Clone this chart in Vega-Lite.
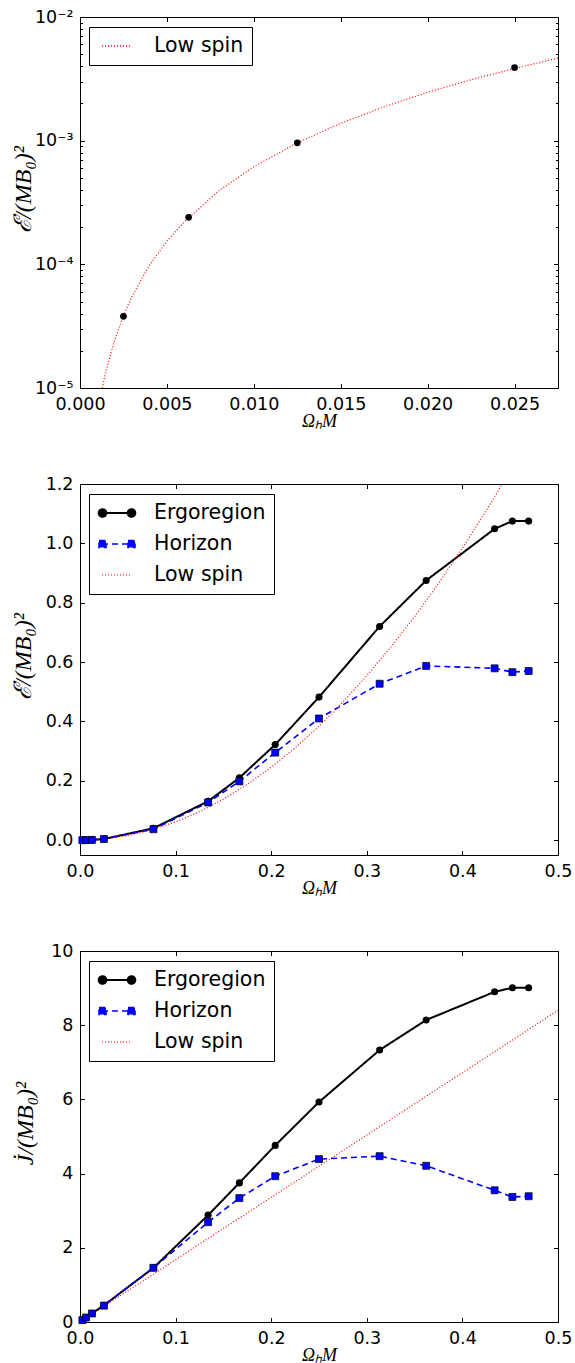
{
  "$schema": "https://vega.github.io/schema/vega-lite/v6.json",
  "padding": {"left": 10, "top": 7, "right": 5, "bottom": 0},
  "spacing": 96,
  "bounds": "flush",
  "datasets": {
    "p1_low": [
      {"x": 0.00128, "y": 1.0e-5}, {"x": 0.0015, "y": 1.38e-5}, {"x": 0.002, "y": 2.46e-5}, {"x": 0.0025, "y": 3.84e-5},
      {"x": 0.003, "y": 5.54e-5}, {"x": 0.004, "y": 9.84e-5}, {"x": 0.005, "y": 1.54e-4}, {"x": 0.006, "y": 2.21e-4},
      {"x": 0.008, "y": 3.94e-4}, {"x": 0.010, "y": 6.15e-4}, {"x": 0.0125, "y": 9.61e-4}, {"x": 0.015, "y": 1.38e-3},
      {"x": 0.0175, "y": 1.88e-3}, {"x": 0.020, "y": 2.46e-3}, {"x": 0.0225, "y": 3.11e-3}, {"x": 0.025, "y": 3.84e-3},
      {"x": 0.0275, "y": 4.65e-3}
    ],
    "p1_pts": [
      {"x": 0.0025, "y": 3.8e-5}, {"x": 0.00625, "y": 2.4e-4}, {"x": 0.0125, "y": 9.6e-4}, {"x": 0.025, "y": 3.9e-3}
    ],
    "p2": [
      {"series": "Ergoregion", "x": 0.0025, "y": 0.00004}, {"series": "Ergoregion", "x": 0.00625, "y": 0.00024},
      {"series": "Ergoregion", "x": 0.0125, "y": 0.00096}, {"series": "Ergoregion", "x": 0.025, "y": 0.0039},
      {"series": "Ergoregion", "x": 0.0768, "y": 0.040}, {"series": "Ergoregion", "x": 0.134, "y": 0.131},
      {"series": "Ergoregion", "x": 0.1667, "y": 0.210}, {"series": "Ergoregion", "x": 0.2042, "y": 0.322},
      {"series": "Ergoregion", "x": 0.25, "y": 0.482}, {"series": "Ergoregion", "x": 0.3134, "y": 0.720},
      {"series": "Ergoregion", "x": 0.3621, "y": 0.875}, {"series": "Ergoregion", "x": 0.4337, "y": 1.049},
      {"series": "Ergoregion", "x": 0.4523, "y": 1.075}, {"series": "Ergoregion", "x": 0.4693, "y": 1.075},
      {"series": "Horizon", "x": 0.0025, "y": 0.00004}, {"series": "Horizon", "x": 0.00625, "y": 0.00024},
      {"series": "Horizon", "x": 0.0125, "y": 0.00096}, {"series": "Horizon", "x": 0.025, "y": 0.0039},
      {"series": "Horizon", "x": 0.0768, "y": 0.037}, {"series": "Horizon", "x": 0.134, "y": 0.127},
      {"series": "Horizon", "x": 0.1667, "y": 0.198}, {"series": "Horizon", "x": 0.2042, "y": 0.295},
      {"series": "Horizon", "x": 0.25, "y": 0.410}, {"series": "Horizon", "x": 0.3134, "y": 0.527},
      {"series": "Horizon", "x": 0.3621, "y": 0.587}, {"series": "Horizon", "x": 0.4337, "y": 0.579},
      {"series": "Horizon", "x": 0.4523, "y": 0.566}, {"series": "Horizon", "x": 0.4693, "y": 0.570},
      {"series": "Low spin", "x": 0, "y": 0}, {"series": "Low spin", "x": 0.025, "y": 0.0038},
      {"series": "Low spin", "x": 0.05, "y": 0.0154}, {"series": "Low spin", "x": 0.075, "y": 0.0346},
      {"series": "Low spin", "x": 0.1, "y": 0.0615}, {"series": "Low spin", "x": 0.125, "y": 0.0961},
      {"series": "Low spin", "x": 0.15, "y": 0.138}, {"series": "Low spin", "x": 0.175, "y": 0.188},
      {"series": "Low spin", "x": 0.2, "y": 0.246}, {"series": "Low spin", "x": 0.225, "y": 0.311},
      {"series": "Low spin", "x": 0.25, "y": 0.384}, {"series": "Low spin", "x": 0.275, "y": 0.465},
      {"series": "Low spin", "x": 0.3, "y": 0.554}, {"series": "Low spin", "x": 0.325, "y": 0.650},
      {"series": "Low spin", "x": 0.35, "y": 0.753}, {"series": "Low spin", "x": 0.375, "y": 0.865},
      {"series": "Low spin", "x": 0.4, "y": 0.984}, {"series": "Low spin", "x": 0.425, "y": 1.111},
      {"series": "Low spin", "x": 0.4417, "y": 1.2}
    ],
    "p3": [
      {"series": "Ergoregion", "x": 0.0025, "y": 0.05}, {"series": "Ergoregion", "x": 0.00625, "y": 0.12},
      {"series": "Ergoregion", "x": 0.0125, "y": 0.23}, {"series": "Ergoregion", "x": 0.025, "y": 0.45},
      {"series": "Ergoregion", "x": 0.0768, "y": 1.46}, {"series": "Ergoregion", "x": 0.134, "y": 2.88},
      {"series": "Ergoregion", "x": 0.1667, "y": 3.75}, {"series": "Ergoregion", "x": 0.2042, "y": 4.76},
      {"series": "Ergoregion", "x": 0.25, "y": 5.93}, {"series": "Ergoregion", "x": 0.3134, "y": 7.33},
      {"series": "Ergoregion", "x": 0.3621, "y": 8.14}, {"series": "Ergoregion", "x": 0.4337, "y": 8.90},
      {"series": "Ergoregion", "x": 0.4523, "y": 9.01}, {"series": "Ergoregion", "x": 0.4693, "y": 9.01},
      {"series": "Horizon", "x": 0.0025, "y": 0.05}, {"series": "Horizon", "x": 0.00625, "y": 0.12},
      {"series": "Horizon", "x": 0.0125, "y": 0.23}, {"series": "Horizon", "x": 0.025, "y": 0.44},
      {"series": "Horizon", "x": 0.0768, "y": 1.46}, {"series": "Horizon", "x": 0.134, "y": 2.69},
      {"series": "Horizon", "x": 0.1667, "y": 3.34}, {"series": "Horizon", "x": 0.2042, "y": 3.93},
      {"series": "Horizon", "x": 0.25, "y": 4.39}, {"series": "Horizon", "x": 0.3134, "y": 4.47},
      {"series": "Horizon", "x": 0.3621, "y": 4.21}, {"series": "Horizon", "x": 0.4337, "y": 3.55},
      {"series": "Horizon", "x": 0.4523, "y": 3.37}, {"series": "Horizon", "x": 0.4693, "y": 3.39},
      {"series": "Low spin", "x": 0, "y": 0}, {"series": "Low spin", "x": 0.05, "y": 0.84},
      {"series": "Low spin", "x": 0.1, "y": 1.68}, {"series": "Low spin", "x": 0.15, "y": 2.52},
      {"series": "Low spin", "x": 0.2, "y": 3.36}, {"series": "Low spin", "x": 0.25, "y": 4.2},
      {"series": "Low spin", "x": 0.3, "y": 5.04}, {"series": "Low spin", "x": 0.35, "y": 5.88},
      {"series": "Low spin", "x": 0.4, "y": 6.72}, {"series": "Low spin", "x": 0.45, "y": 7.56},
      {"series": "Low spin", "x": 0.5, "y": 8.4}
    ]
  },
  "vconcat": [
    {
      "width": 478,
      "height": 371,
      "layer": [
        {
          "data": {"name": "p1_low"},
          "transform": [{"calculate": "'Low spin'", "as": "series"}],
          "mark": {"type": "line", "clip": true, "strokeWidth": 1.2},
          "encoding": {
            "x": {"field": "x", "type": "quantitative", "scale": {"domain": [0, 0.0275], "nice": false, "zero": false},
              "axis": {"orient": "bottom", "values": [0, 0.005, 0.01, 0.015, 0.02, 0.025], "format": ".3f", "title": "ΩₕM", "titleY": 33, "titleBaseline": "middle"}},
            "y": {"field": "y", "type": "quantitative", "scale": {"type": "log", "domain": [1e-5, 1e-2], "nice": false},
              "axis": {"orient": "left", "values": [1e-5, 1e-4, 1e-3, 1e-2], "labelExpr": "datum.value > 0.005 ? '10⁻²' : datum.value > 0.0005 ? '10⁻³' : datum.value > 0.00005 ? '10⁻⁴' : '10⁻⁵'", "title": "ℰ̇/(MB₀)²", "titleX": -57, "titleY": 172, "titleBaseline": "middle", "titleAlign": "center", "titleFontSize": 24}},
            "stroke": {"field": "series", "type": "nominal", "title": null, "scale": {"domain": ["Low spin"], "range": ["#ff0000"]},
              "legend": {"orient": "none", "legendX": 9, "legendY": 10, "symbolType": "M-1.5,0L1.5,0", "symbolDash": [1, 2]}},
            "strokeDash": {"field": "series", "type": "nominal", "title": null, "scale": {"domain": ["Low spin"], "range": [[1, 2]]}, "legend": null}
          }
        },
        {
          "data": {"name": "p1_pts"},
          "mark": {"type": "point", "shape": "circle", "filled": true, "color": "#000000", "size": 45, "opacity": 1},
          "encoding": {
            "x": {"field": "x", "type": "quantitative", "axis": null},
            "y": {"field": "y", "type": "quantitative", "axis": null}
          }
        },
        {
          "data": {"name": "p1_pts"},
          "mark": {"type": "point", "opacity": 0},
          "encoding": {
            "x": {"field": "x", "type": "quantitative", "axis": {"orient": "top", "values": [0, 0.005, 0.01, 0.015, 0.02, 0.025], "labels": false, "title": null}},
            "y": {"field": "y", "type": "quantitative", "axis": {"orient": "right", "values": [1e-5, 1e-4, 1e-3, 1e-2], "labels": false, "title": null}}
          }
        },
        {
          "data": {"name": "p1_pts"},
          "mark": {"type": "point", "opacity": 0},
          "encoding": {
            "x": {"field": "x", "type": "quantitative", "axis": null},
            "y": {"field": "y", "type": "quantitative", "axis": {"orient": "left", "values": [2e-5, 3e-5, 4e-5, 5e-5, 6e-5, 7e-5, 8e-5, 9e-5, 2e-4, 3e-4, 4e-4, 5e-4, 6e-4, 7e-4, 8e-4, 9e-4, 2e-3, 3e-3, 4e-3, 5e-3, 6e-3, 7e-3, 8e-3, 9e-3], "labels": false, "title": null, "tickSize": -2.5}}
          }
        },
        {
          "data": {"name": "p1_pts"},
          "mark": {"type": "point", "opacity": 0},
          "encoding": {
            "x": {"field": "x", "type": "quantitative", "axis": null},
            "y": {"field": "y", "type": "quantitative", "axis": {"orient": "right", "values": [2e-5, 3e-5, 4e-5, 5e-5, 6e-5, 7e-5, 8e-5, 9e-5, 2e-4, 3e-4, 4e-4, 5e-4, 6e-4, 7e-4, 8e-4, 9e-4, 2e-3, 3e-3, 4e-3, 5e-3, 6e-3, 7e-3, 8e-3, 9e-3], "labels": false, "title": null, "tickSize": -2.5}}
          }
        }
      ],
      "resolve": {"axis": {"x": "independent", "y": "independent"}}
    },
    {
      "width": 478,
      "height": 371,
      "data": {"name": "p2"},
      "layer": [
        {
          "mark": {"type": "line", "clip": true},
          "encoding": {
            "x": {"field": "x", "type": "quantitative", "scale": {"domain": [0, 0.5], "nice": false, "zero": false},
              "axis": {"orient": "bottom", "values": [0, 0.1, 0.2, 0.3, 0.4, 0.5], "format": ".1f", "title": "ΩₕM", "titleY": 33, "titleBaseline": "middle"}},
            "y": {"field": "y", "type": "quantitative", "scale": {"domain": [-0.05, 1.2], "nice": false, "zero": false},
              "axis": {"orient": "left", "values": [0, 0.2, 0.4, 0.6, 0.8, 1.0, 1.2], "format": ".1f", "title": "ℰ̇/(MB₀)²", "titleX": -57, "titleY": 172, "titleBaseline": "middle", "titleAlign": "center", "titleFontSize": 24}},
            "stroke": {"field": "series", "type": "nominal", "title": null, "scale": {"domain": ["Ergoregion", "Horizon", "Low spin"], "range": ["#000000", "#0000ff", "#ff0000"]},
              "legend": {"orient": "none", "legendX": 9, "legendY": 10}},
            "strokeDash": {"field": "series", "type": "nominal", "title": null, "scale": {"domain": ["Ergoregion", "Horizon", "Low spin"], "range": [[1, 0], [6, 4], [1, 2]]}},
            "strokeWidth": {"field": "series", "type": "nominal", "title": null, "scale": {"domain": ["Ergoregion", "Horizon", "Low spin"], "range": [2, 1.2, 1.2]}, "legend": null}
          }
        },
        {
          "transform": [{"filter": "datum.series === 'Ergoregion'"}],
          "mark": {"type": "point", "shape": "circle", "filled": true, "color": "#000000", "size": 50, "opacity": 1},
          "encoding": {
            "x": {"field": "x", "type": "quantitative", "axis": null},
            "y": {"field": "y", "type": "quantitative", "axis": null}
          }
        },
        {
          "transform": [{"filter": "datum.series === 'Horizon'"}],
          "mark": {"type": "point", "shape": "square", "filled": true, "fill": "#0000ff", "stroke": "#000000", "strokeWidth": 0.7, "size": 49, "opacity": 1},
          "encoding": {
            "x": {"field": "x", "type": "quantitative", "axis": null},
            "y": {"field": "y", "type": "quantitative", "axis": null}
          }
        },
        {
          "transform": [{"filter": "false"}],
          "mark": {"type": "point", "filled": true, "opacity": 1},
          "encoding": {
            "x": {"field": "x", "type": "quantitative", "axis": null},
            "y": {"field": "y", "type": "quantitative", "axis": null},
            "fill": {"field": "series", "type": "nominal", "title": null, "scale": {"domain": ["Ergoregion", "Horizon", "Low spin"], "range": ["#000000", "#0000ff", "#ff0000"]}},
            "shape": {"field": "series", "type": "nominal", "title": null, "scale": {"domain": ["Ergoregion", "Horizon", "Low spin"], "range": [
              "M-1.5,0L1.5,0M-1.83,0A0.38,0.38,0,1,0,-1.07,0A0.38,0.38,0,1,0,-1.83,0ZM1.07,0A0.38,0.38,0,1,0,1.83,0A0.38,0.38,0,1,0,1.07,0Z",
              "M-1.5,0L1.5,0M-1.8,-0.35L-1.1,-0.35L-1.1,0.35L-1.8,0.35ZM1.1,-0.35L1.8,-0.35L1.8,0.35L1.1,0.35Z",
              "M-1.5,0L1.5,0"
            ]}}
          }
        },
        {
          "mark": {"type": "point", "opacity": 0},
          "encoding": {
            "x": {"field": "x", "type": "quantitative", "axis": {"orient": "top", "values": [0, 0.1, 0.2, 0.3, 0.4, 0.5], "labels": false, "title": null}},
            "y": {"field": "y", "type": "quantitative", "axis": {"orient": "right", "values": [0, 0.2, 0.4, 0.6, 0.8, 1.0, 1.2], "labels": false, "title": null}}
          }
        }
      ],
      "resolve": {"axis": {"x": "independent", "y": "independent"}}
    },
    {
      "width": 478,
      "height": 371,
      "data": {"name": "p3"},
      "layer": [
        {
          "mark": {"type": "line", "clip": true},
          "encoding": {
            "x": {"field": "x", "type": "quantitative", "scale": {"domain": [0, 0.5], "nice": false, "zero": false},
              "axis": {"orient": "bottom", "values": [0, 0.1, 0.2, 0.3, 0.4, 0.5], "format": ".1f", "title": "ΩₕM", "titleY": 33, "titleBaseline": "middle"}},
            "y": {"field": "y", "type": "quantitative", "scale": {"domain": [0, 10], "nice": false, "zero": false},
              "axis": {"orient": "left", "values": [0, 2, 4, 6, 8, 10], "format": "d", "title": "J̇/(MB₀)²", "titleX": -55, "titleY": 172, "titleBaseline": "middle", "titleAlign": "center", "titleFontSize": 24}},
            "stroke": {"field": "series", "type": "nominal", "title": null, "scale": {"domain": ["Ergoregion", "Horizon", "Low spin"], "range": ["#000000", "#0000ff", "#ff0000"]},
              "legend": {"orient": "none", "legendX": 9, "legendY": 10}},
            "strokeDash": {"field": "series", "type": "nominal", "title": null, "scale": {"domain": ["Ergoregion", "Horizon", "Low spin"], "range": [[1, 0], [6, 4], [1, 2]]}},
            "strokeWidth": {"field": "series", "type": "nominal", "title": null, "scale": {"domain": ["Ergoregion", "Horizon", "Low spin"], "range": [2, 1.2, 1.2]}, "legend": null}
          }
        },
        {
          "transform": [{"filter": "datum.series === 'Ergoregion'"}],
          "mark": {"type": "point", "shape": "circle", "filled": true, "color": "#000000", "size": 50, "opacity": 1},
          "encoding": {
            "x": {"field": "x", "type": "quantitative", "axis": null},
            "y": {"field": "y", "type": "quantitative", "axis": null}
          }
        },
        {
          "transform": [{"filter": "datum.series === 'Horizon'"}],
          "mark": {"type": "point", "shape": "square", "filled": true, "fill": "#0000ff", "stroke": "#000000", "strokeWidth": 0.7, "size": 49, "opacity": 1},
          "encoding": {
            "x": {"field": "x", "type": "quantitative", "axis": null},
            "y": {"field": "y", "type": "quantitative", "axis": null}
          }
        },
        {
          "transform": [{"filter": "false"}],
          "mark": {"type": "point", "filled": true, "opacity": 1},
          "encoding": {
            "x": {"field": "x", "type": "quantitative", "axis": null},
            "y": {"field": "y", "type": "quantitative", "axis": null},
            "fill": {"field": "series", "type": "nominal", "title": null, "scale": {"domain": ["Ergoregion", "Horizon", "Low spin"], "range": ["#000000", "#0000ff", "#ff0000"]}},
            "shape": {"field": "series", "type": "nominal", "title": null, "scale": {"domain": ["Ergoregion", "Horizon", "Low spin"], "range": [
              "M-1.5,0L1.5,0M-1.83,0A0.38,0.38,0,1,0,-1.07,0A0.38,0.38,0,1,0,-1.83,0ZM1.07,0A0.38,0.38,0,1,0,1.83,0A0.38,0.38,0,1,0,1.07,0Z",
              "M-1.5,0L1.5,0M-1.8,-0.35L-1.1,-0.35L-1.1,0.35L-1.8,0.35ZM1.1,-0.35L1.8,-0.35L1.8,0.35L1.1,0.35Z",
              "M-1.5,0L1.5,0"
            ]}}
          }
        },
        {
          "mark": {"type": "point", "opacity": 0},
          "encoding": {
            "x": {"field": "x", "type": "quantitative", "axis": {"orient": "top", "values": [0, 0.1, 0.2, 0.3, 0.4, 0.5], "labels": false, "title": null}},
            "y": {"field": "y", "type": "quantitative", "axis": {"orient": "right", "values": [0, 2, 4, 6, 8, 10], "labels": false, "title": null}}
          }
        }
      ],
      "resolve": {"axis": {"x": "independent", "y": "independent"}}
    }
  ],
  "resolve": {
    "scale": {"x": "independent", "y": "independent", "stroke": "independent", "strokeDash": "independent", "strokeWidth": "independent", "fill": "independent", "shape": "independent"},
    "legend": {"stroke": "independent", "strokeDash": "independent", "fill": "independent", "shape": "independent"}
  },
  "config": {
    "view": {"stroke": "#000000", "strokeWidth": 1},
    "axis": {
      "grid": false, "domain": false, "ticks": true, "tickColor": "#000000", "tickWidth": 1, "tickSize": -4.5,
      "labelPadding": 11.5, "labelFont": "DejaVu Sans", "labelFontSize": 17.5, "labelColor": "#000000",
      "labelFlush": false, "labelOverlap": false,
      "titleFont": "Liberation Serif", "titleFontStyle": "italic", "titleFontWeight": "normal", "titleFontSize": 18, "titleColor": "#000000"
    },
    "legend": {
      "fillColor": "#ffffff", "strokeColor": "#000000", "strokeWidth": 1, "padding": 8, "cornerRadius": 0,
      "labelFont": "DejaVu Sans", "labelFontSize": 20.5, "labelColor": "#000000",
      "symbolSize": 400, "symbolOffset": 9, "labelOffset": 26, "rowPadding": 9, "symbolStrokeWidth": 1.5, "symbolOpacity": 1, "labelLimit": 300
    }
  }
}
